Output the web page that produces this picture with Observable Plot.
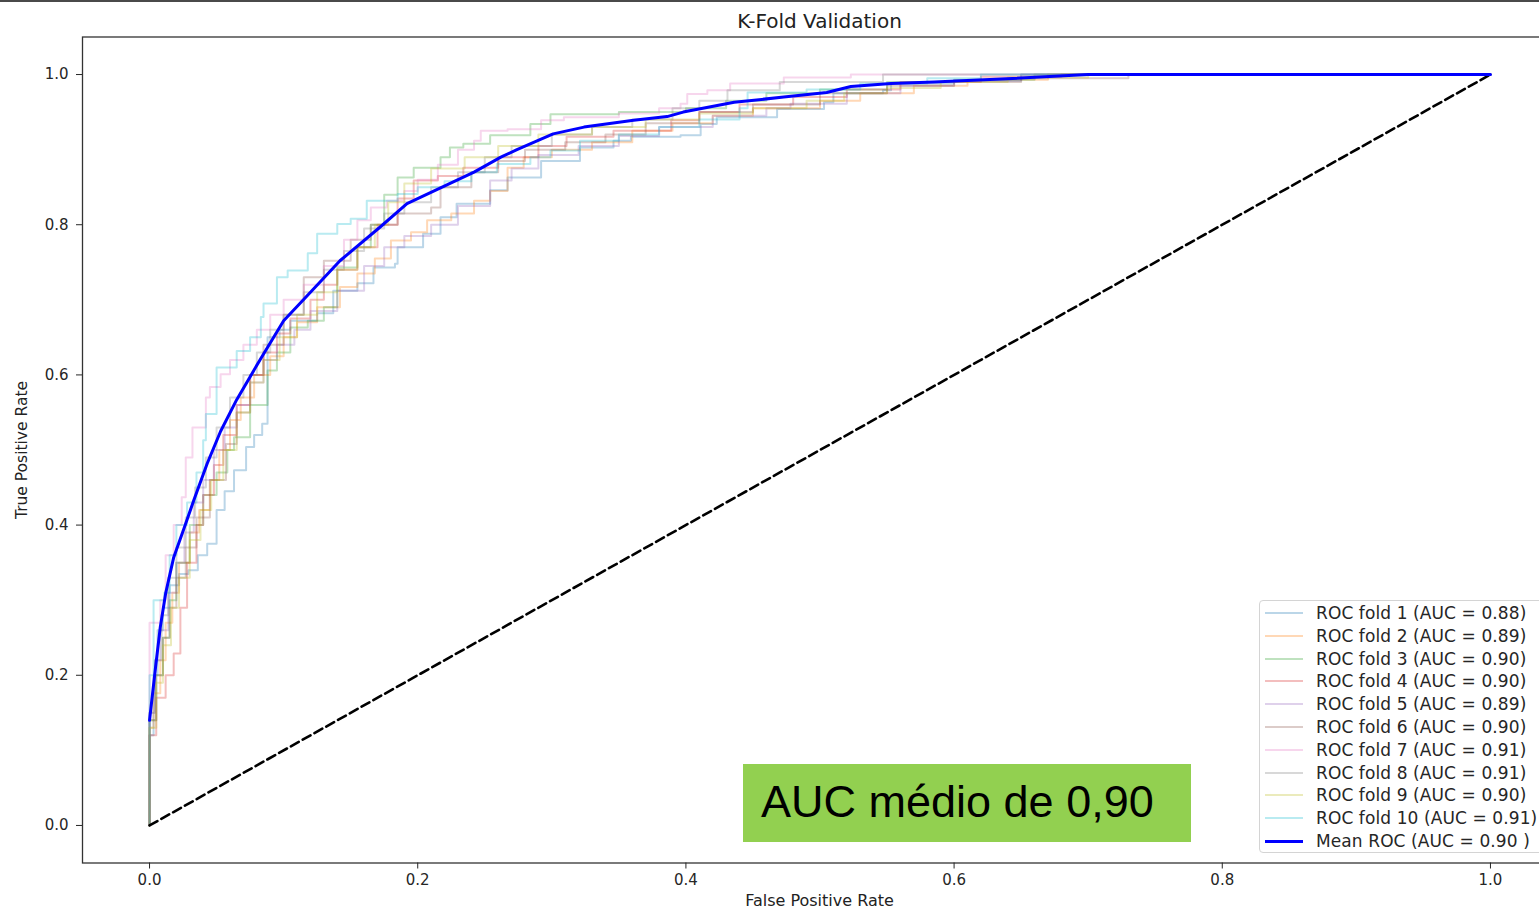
<!DOCTYPE html>
<html>
<head>
<meta charset="utf-8">
<script src="https://cdn.jsdelivr.net/npm/d3@7"></script>
<script src="https://cdn.jsdelivr.net/npm/@observablehq/plot@0.6"></script>
<style>
  html, body { margin: 0; padding: 0; background: #fff; }
  #wrap { position: relative; width: 1539px; height: 909px; overflow: hidden; font-family: "DejaVu Sans", sans-serif; color: #262626; }
  #wrap svg { position: absolute; left: 0; top: 0; max-width: none !important; width: 1560px; height: 909px; }
  .abs { position: absolute; white-space: nowrap; }
</style>
</head>
<body>
<div id="wrap"></div>
<script>
// ---------------- data ----------------
const foldLabels = ["ROC fold 1", "ROC fold 2", "ROC fold 3", "ROC fold 4", "ROC fold 5",
                    "ROC fold 6", "ROC fold 7", "ROC fold 8", "ROC fold 9", "ROC fold 10"];
const foldAuc = ["0.88", "0.89", "0.90", "0.90", "0.89", "0.90", "0.91", "0.91", "0.90", "0.91"];
const meanAuc = "0.90";
const xTicks = [0, 0.2, 0.4, 0.6, 0.8, 1.0];
const yTicks = [0, 0.2, 0.4, 0.6, 0.8, 1.0];

// [fpr, tpr] corners of each fold's ROC staircase
const fold1 = [[0,0],[0,0.12],[0.003,0.2],[0.006,0.26],[0.01,0.29],[0.015,0.32],[0.022,0.335],[0.029,0.34],[0.036,0.36],[0.043,0.375],[0.05,0.42],[0.056,0.445],[0.063,0.473],[0.072,0.504],[0.078,0.52],[0.084,0.535],[0.088,0.593],[0.088,0.65],[0.097,0.66],[0.105,0.672],[0.125,0.682],[0.137,0.712],[0.155,0.722],[0.167,0.743],[0.183,0.748],[0.185,0.77],[0.204,0.788],[0.217,0.81],[0.229,0.828],[0.254,0.846],[0.267,0.863],[0.292,0.885],[0.321,0.903],[0.346,0.912],[0.359,0.917],[0.396,0.919],[0.411,0.934],[0.423,0.943],[0.468,0.954],[0.503,0.963],[0.51,0.975],[0.547,0.979],[0.553,0.988],[0.6,0.992],[0.65,1],[1,1]];
const fold2 = [[0,0],[0,0.13],[0.003,0.176],[0.008,0.22],[0.012,0.27],[0.017,0.31],[0.022,0.35],[0.03,0.39],[0.037,0.42],[0.045,0.46],[0.052,0.5],[0.06,0.54],[0.068,0.57],[0.078,0.6],[0.09,0.625],[0.1,0.65],[0.11,0.67],[0.125,0.69],[0.142,0.717],[0.155,0.735],[0.168,0.755],[0.18,0.779],[0.195,0.79],[0.207,0.806],[0.225,0.815],[0.242,0.832],[0.254,0.845],[0.267,0.876],[0.279,0.89],[0.3,0.9],[0.33,0.91],[0.36,0.925],[0.39,0.935],[0.42,0.945],[0.45,0.955],[0.5,0.965],[0.53,0.975],[0.57,0.985],[0.61,0.993],[0.67,1],[1,1]];
const fold3 = [[0,0],[0,0.14],[0.005,0.2],[0.01,0.25],[0.015,0.3],[0.02,0.35],[0.03,0.4],[0.04,0.44],[0.05,0.47],[0.058,0.5],[0.063,0.517],[0.075,0.56],[0.088,0.606],[0.095,0.63],[0.105,0.663],[0.118,0.672],[0.13,0.69],[0.14,0.699],[0.14,0.743],[0.155,0.77],[0.165,0.8],[0.175,0.84],[0.185,0.863],[0.197,0.876],[0.217,0.89],[0.224,0.903],[0.234,0.908],[0.254,0.919],[0.284,0.934],[0.299,0.947],[0.35,0.95],[0.4,0.955],[0.43,0.965],[0.46,0.975],[0.5,0.98],[0.55,0.99],[0.6,0.993],[0.66,1],[1,1]];
const fold4 = [[0,0],[0,0.12],[0.005,0.17],[0.012,0.2],[0.018,0.229],[0.023,0.29],[0.028,0.35],[0.035,0.4],[0.04,0.44],[0.048,0.48],[0.055,0.52],[0.065,0.56],[0.075,0.6],[0.085,0.63],[0.095,0.655],[0.105,0.675],[0.12,0.7],[0.13,0.72],[0.14,0.74],[0.155,0.77],[0.17,0.8],[0.185,0.835],[0.197,0.859],[0.215,0.865],[0.234,0.876],[0.26,0.89],[0.29,0.905],[0.311,0.917],[0.346,0.925],[0.389,0.939],[0.41,0.95],[0.44,0.96],[0.48,0.97],[0.52,0.98],[0.56,0.99],[0.62,0.997],[0.68,1],[1,1]];
const fold5 = [[0,0],[0,0.15],[0.004,0.22],[0.008,0.26],[0.014,0.31],[0.02,0.35],[0.026,0.39],[0.033,0.43],[0.04,0.46],[0.048,0.5],[0.056,0.53],[0.065,0.56],[0.075,0.59],[0.085,0.62],[0.095,0.64],[0.108,0.66],[0.12,0.685],[0.14,0.712],[0.16,0.745],[0.175,0.77],[0.19,0.785],[0.21,0.8],[0.23,0.825],[0.254,0.859],[0.27,0.875],[0.29,0.893],[0.32,0.905],[0.35,0.918],[0.38,0.93],[0.42,0.945],[0.46,0.955],[0.478,0.961],[0.52,0.975],[0.56,0.985],[0.6,0.992],[0.65,1],[1,1]];
const fold6 = [[0,0],[0,0.14],[0.005,0.2],[0.01,0.25],[0.015,0.29],[0.02,0.33],[0.027,0.37],[0.035,0.41],[0.045,0.46],[0.057,0.508],[0.065,0.55],[0.075,0.6],[0.085,0.64],[0.1,0.68],[0.115,0.73],[0.13,0.752],[0.15,0.78],[0.165,0.8],[0.185,0.815],[0.21,0.823],[0.217,0.85],[0.24,0.87],[0.26,0.885],[0.28,0.9],[0.31,0.91],[0.34,0.92],[0.37,0.935],[0.41,0.95],[0.45,0.96],[0.5,0.975],[0.55,0.985],[0.6,0.99],[0.65,0.995],[0.73,1],[1,1]];
const fold7 = [[0,0],[0,0.27],[0.008,0.3],[0.012,0.36],[0.018,0.4],[0.024,0.437],[0.027,0.49],[0.032,0.53],[0.042,0.57],[0.045,0.584],[0.053,0.601],[0.06,0.62],[0.07,0.64],[0.08,0.66],[0.09,0.68],[0.1,0.7],[0.115,0.72],[0.13,0.745],[0.145,0.78],[0.155,0.806],[0.165,0.823],[0.177,0.832],[0.19,0.845],[0.2,0.86],[0.215,0.88],[0.23,0.9],[0.242,0.912],[0.247,0.925],[0.267,0.927],[0.292,0.939],[0.309,0.943],[0.35,0.948],[0.38,0.955],[0.396,0.961],[0.401,0.974],[0.416,0.979],[0.433,0.988],[0.473,0.996],[0.523,1],[1,1]];
const fold8 = [[0,0],[0,0.15],[0.004,0.22],[0.009,0.28],[0.014,0.33],[0.02,0.37],[0.027,0.41],[0.034,0.45],[0.042,0.49],[0.05,0.53],[0.06,0.57],[0.07,0.6],[0.08,0.63],[0.09,0.66],[0.1,0.68],[0.115,0.71],[0.13,0.74],[0.145,0.765],[0.16,0.795],[0.175,0.815],[0.19,0.83],[0.21,0.85],[0.23,0.87],[0.25,0.89],[0.27,0.905],[0.3,0.92],[0.33,0.93],[0.36,0.94],[0.39,0.955],[0.41,0.965],[0.431,0.979],[0.47,0.99],[0.547,1],[1,1]];
const fold9 = [[0,0],[0,0.13],[0.005,0.19],[0.01,0.24],[0.016,0.29],[0.022,0.33],[0.03,0.38],[0.038,0.42],[0.046,0.46],[0.055,0.5],[0.065,0.55],[0.075,0.59],[0.085,0.62],[0.097,0.65],[0.11,0.68],[0.125,0.71],[0.14,0.74],[0.155,0.77],[0.168,0.8],[0.178,0.83],[0.19,0.855],[0.21,0.875],[0.235,0.89],[0.26,0.905],[0.29,0.92],[0.33,0.93],[0.37,0.94],[0.41,0.948],[0.45,0.955],[0.49,0.965],[0.518,0.975],[0.55,0.982],[0.59,0.99],[0.64,0.996],[0.7,1],[1,1]];
const fold10 = [[0,0],[0,0.2],[0.003,0.3],[0.011,0.31],[0.015,0.36],[0.02,0.4],[0.028,0.43],[0.035,0.47],[0.04,0.513],[0.042,0.548],[0.05,0.61],[0.065,0.632],[0.075,0.65],[0.083,0.677],[0.085,0.695],[0.095,0.73],[0.103,0.739],[0.118,0.748],[0.118,0.762],[0.125,0.788],[0.14,0.801],[0.15,0.808],[0.162,0.832],[0.175,0.832],[0.185,0.841],[0.2,0.85],[0.22,0.858],[0.24,0.87],[0.259,0.881],[0.284,0.89],[0.299,0.899],[0.321,0.912],[0.35,0.92],[0.38,0.93],[0.41,0.94],[0.44,0.955],[0.446,0.976],[0.49,0.98],[0.53,0.988],[0.58,0.995],[0.62,1],[1,1]];

// mean ROC [fpr, tpr]
const meanRoc = [[0,0.14],[0.0045,0.211],[0.008,0.264],[0.012,0.309],[0.018,0.357],[0.026,0.397],[0.033,0.433],[0.043,0.482],[0.053,0.525],[0.065,0.567],[0.083,0.622],[0.1,0.672],[0.12,0.71],[0.142,0.752],[0.172,0.797],[0.192,0.828],[0.242,0.87],[0.262,0.89],[0.274,0.9],[0.292,0.914],[0.301,0.921],[0.324,0.93],[0.361,0.939],[0.386,0.944],[0.398,0.95],[0.436,0.963],[0.473,0.97],[0.505,0.976],[0.523,0.984],[0.553,0.988],[0.585,0.99],[0.635,0.994],[0.7,1.0],[1,1]];

// chance line
const chance = [[0,0],[1,1]];

const folds = [fold1, fold2, fold3, fold4, fold5, fold6, fold7, fold8, fold9, fold10];
// ---------------- styles ----------------
const foldColors = ["#1f77b4","#ff7f0e","#2ca02c","#d62728","#9467bd","#8c564b","#e377c2","#7f7f7f","#bcbd22","#17becf"];

const px = d => d[0], py = d => d[1];

const marks = [];
folds.forEach((f, i) => {
  marks.push(Plot.line(f, {x: px, y: py, curve: "step-after", stroke: foldColors[i], strokeOpacity: 0.3, strokeWidth: 2}));
});
marks.push(Plot.line(chance, {x: px, y: py, stroke: "#000", strokeWidth: 2.6, strokeDasharray: "9,4.5"}));
marks.push(Plot.line(meanRoc, {x: px, y: py, stroke: "#0000ff", strokeWidth: 3}));
marks.push(Plot.frame({stroke: "#333", strokeWidth: 1.3}));
marks.push(Plot.axisX({ticks: xTicks, tickFormat: d3.format(".1f"), tickSize: 6, tickPadding: 5, label: null}));
marks.push(Plot.axisY({ticks: yTicks, tickFormat: d3.format(".1f"), tickSize: 6, tickPadding: 8, label: null}));

const chart = Plot.plot({
  width: 1560,
  height: 909,
  marginLeft: 82,
  marginRight: 3,
  marginTop: 36.5,
  marginBottom: 46.5,
  x: {domain: [-0.05, 1.05]},
  y: {domain: [-0.05, 1.05]},
  style: {fontFamily: "DejaVu Sans", fontSize: "15px", color: "#262626", background: "transparent", maxWidth: "none"},
  marks
});

const wrap = document.getElementById("wrap");
wrap.appendChild(chart);

function addDiv(css, text) {
  const d = document.createElement("div");
  d.className = "abs";
  d.style.cssText = css;
  if (text != null) d.textContent = text;
  wrap.appendChild(d);
  return d;
}

// top border
addDiv("left:0;top:0;width:1539px;height:2px;background:#4a4a4a;");
// title
addDiv("left:0;width:1639px;top:9px;text-align:center;font-size:20px;line-height:24px;color:#222;", "K-Fold Validation");
// axis labels
addDiv("left:0;width:1639px;top:891px;text-align:center;font-size:16px;line-height:20px;color:#222;", "False Positive Rate");
addDiv("left:22px;top:450px;transform:translate(-50%,-50%) rotate(-90deg);font-size:15.5px;line-height:18px;color:#222;", "True Positive Rate");

// legend
const leg = addDiv("left:1259px;top:600px;width:300px;height:251px;border:1px solid #d4d4d4;border-radius:4px;background:rgba(255,255,255,0.85);");
const rows = foldLabels.map((l, i) => ({label: `${l} (AUC = ${foldAuc[i]})`, color: foldColors[i], op: 0.3, w: 2}));
rows.push({label: `Mean ROC (AUC = ${meanAuc} )`, color: "#0000ff", op: 1, w: 3});
rows.forEach((r, i) => {
  const cy = 13 + i * 22.8;
  addDiv(`left:1265px;top:${600 + cy - r.w/2}px;width:38px;height:${r.w}px;background:${r.color};opacity:${r.op};`);
  addDiv(`left:1316px;top:${600 + cy - 10}px;font-size:17px;letter-spacing:0.1px;line-height:20px;color:#262626;`, r.label);
});

// annotation box
const box = addDiv("left:743px;top:764px;width:448px;height:78px;background:#92d050;");
addDiv("left:761px;top:776px;font-family:'Liberation Sans',Arial,sans-serif;font-size:45px;line-height:52px;color:#000;", "AUC médio de 0,90");
</script>
</body>
</html>
